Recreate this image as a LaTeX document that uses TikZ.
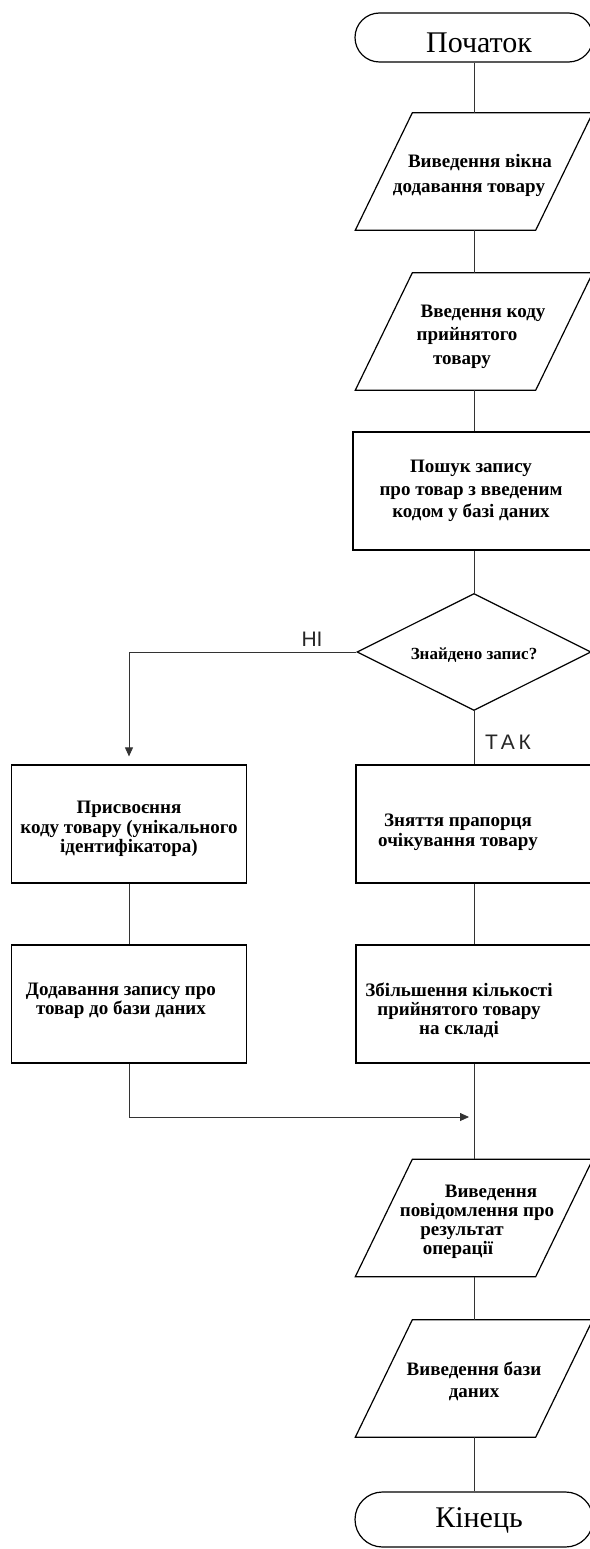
\documentclass[tikz,border=0pt]{standalone}
\usepackage{fontspec}
\setmainfont{Liberation Serif}
\newfontfamily\labfont{Liberation Sans}
\newfontfamily\labfontw[LetterSpace=18]{Liberation Sans}
\usetikzlibrary{shapes.geometric,shapes.misc,arrows.meta}
\newcommand\iopath[1]{\draw[line width=1.2pt] ([xshift=-28.5pt]#1.south west) -- ([xshift=-28.5pt]#1.south east) -- ([xshift=28.5pt]#1.north east) -- ([xshift=28.5pt]#1.north west) -- cycle;}
\begin{document}
\begin{tikzpicture}[x=1pt,y=-1pt,
  txt/.style={font=\fontsize{19}{22.5}\selectfont\bfseries, align=center, inner sep=0pt},
  box/.style={draw, line width=1.2pt, minimum height=118pt, inner sep=0pt},
  io/.style={inner sep=0pt, minimum width=180pt, minimum height=117pt},
  term/.style={draw, rounded rectangle, minimum width=238pt, line width=1.2pt, inner sep=0pt},
  ttxt/.style={font=\fontsize{30}{34}\selectfont, inner sep=0pt},
  dec/.style={draw, diamond, minimum width=234pt, minimum height=117pt, inner sep=0pt, line width=1.2pt},
  conn/.style={line width=0.8pt, draw=black!80},
  arr/.style={conn, -{Triangle[length=9pt,width=8pt]}},
  lab/.style={font=\labfont\fontsize{21}{21}\selectfont, inner sep=0pt, text=black!85}
]
\useasboundingbox (0,0) rectangle (589,1549);

\node[term, minimum height=49pt, label={[ttxt, xshift=5pt, yshift=-5pt]center:Початок}] (start) at (474,37.5) {};

\node[io, label={[txt, font=\fontsize{19}{25}\selectfont\bfseries, yshift=-4pt]center:{\kern12pt Виведення вікна\\додавання товару\kern10pt}}] (p1) at (474,171.5) {};
\iopath{p1}

\node[io, label={[txt, font=\fontsize{19}{23.5}\selectfont\bfseries, yshift=-5pt]center:{\kern18pt Введення коду\\прийнятого\kern14pt\\товару\kern24pt}}] (p2) at (474,331.5) {};
\iopath{p2}

\node[box, minimum width=242pt, label={[txt, xshift=-3pt]center:{Пошук запису\\про товар з введеним\\кодом у базі даних}}] (search) at (474,491) {};

\node[dec, label={[txt, font=\fontsize{17}{20}\selectfont\bfseries, yshift=-3pt]center:Знайдено запис?}] (dec) at (474,652) {};

\node[box, minimum width=235pt, label={[txt, font=\fontsize{19}{19.5}\selectfont\bfseries, yshift=-5pt]center:{Присвоєння\\коду товару (унікального\\ідентифікатора)}}] (l1) at (129,824) {};
\node[box, minimum width=236pt, label={[txt, font=\fontsize{19}{20}\selectfont\bfseries, xshift=-16pt, yshift=-8pt]center:{Зняття прапорця\\очікування товару}}] (r1) at (474,824) {};

\node[box, minimum width=235pt, label={[txt, font=\fontsize{19}{19}\selectfont\bfseries, xshift=-8pt, yshift=3pt]center:{Додавання запису про\\товар до бази даних}}] (l2) at (129,1004) {};
\node[box, minimum width=236pt, label={[txt, font=\fontsize{19}{19}\selectfont\bfseries, xshift=-15pt, yshift=-6pt]center:{Збільшення кількості\\прийнятого товару\\на складі}}] (r2) at (474,1004) {};

\node[io, label={[txt, font=\fontsize{19}{19}\selectfont\bfseries, yshift=-4pt]center:{\kern34pt Виведення\\\kern6pt повідомлення про\\результат\kern24pt\\операції\kern32pt}}] (p3) at (474,1218) {};
\iopath{p3}

\node[io, label={[txt, yshift=-3pt]center:{Виведення бази\\даних}}] (p4) at (474,1378.5) {};
\iopath{p4}

\node[term, minimum height=55pt, label={[ttxt, xshift=5pt, yshift=-1pt]center:Кінець}] (end) at (474,1519.5) {};

\node[lab] (ni) at (312,639) {НІ};
\node[lab, font=\labfontw\fontsize{21}{21}\selectfont] (tak) at (508,742) {ТАК};
\coordinate (m) at (474,1117);

\draw[conn] (start.south) -- (p1.north);
\draw[conn] (p1.south) -- (p2.north);
\draw[conn] (p2.south) -- (search.north);
\draw[conn] (search.south) -- (dec.north);
\draw[conn] (dec.south) -- (r1.north);
\draw[arr, shorten >=8pt] (dec.west) -| (l1.north);
\draw[conn] (l1.south) -- (l2.north);
\draw[conn] (r1.south) -- (r2.north);
\draw[conn] (r2.south) -- (p3.north);
\draw[arr, shorten >=5pt] (l2.south) |- (m);
\draw[conn] (p3.south) -- (p4.north);
\draw[conn] (p4.south) -- (end.north);
\end{tikzpicture}
\end{document}
